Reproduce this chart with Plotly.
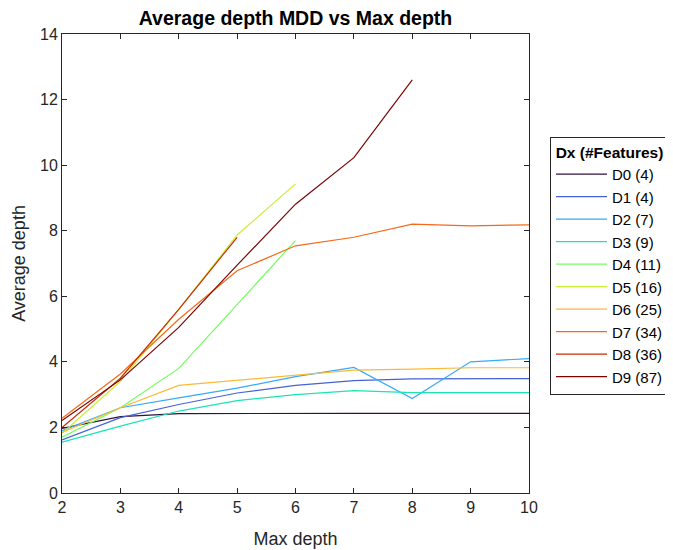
import plotly.graph_objects as go

max_depth = [2, 3, 4, 5, 6, 7, 8, 9, 10]
names = ["D0 (4)", "D1 (4)", "D2 (7)", "D3 (9)", "D4 (11)", "D5 (16)", "D6 (25)", "D7 (34)", "D8 (36)", "D9 (87)"]
colors = ["#30123b", "#4662d7", "#36aaf9", "#1ae4b6", "#72fe5e", "#c7ef34", "#fbb938", "#f56918", "#ca2a04", "#7a0403"]

d0 = [1.97, 2.33, 2.42, 2.43, 2.43, 2.43, 2.43, 2.43, 2.43]
d1 = [1.62, 2.30, 2.70, 3.05, 3.28, 3.43, 3.48, 3.49, 3.49]
d2 = [1.90, 2.60, 2.90, 3.20, 3.55, 3.83, 2.88, 4.00, 4.10]
d3 = [1.55, 2.04, 2.50, 2.82, 3.00, 3.12, 3.06, 3.06, 3.06]
d4 = [1.70, 2.60, 3.80, 5.75, 7.70]
d5 = [1.82, 3.40, 5.60, 7.87, 9.43]
d6 = [1.85, 2.60, 3.28, 3.43, 3.60, 3.75, 3.78, 3.82, 3.82]
d7 = [2.28, 3.63, 5.30, 6.78, 7.54, 7.80, 8.20, 8.15, 8.18]
d8 = [2.00, 3.50, 5.60, 7.80]
d9 = [2.21, 3.45, 5.05, 6.95, 8.81, 10.23, 12.60]
series = [d0, d1, d2, d3, d4, d5, d6, d7, d8, d9]

fig = go.Figure()
for name, col, vals in zip(names, colors, series):
    fig.add_trace(go.Scatter(x=max_depth[:len(vals)], y=vals, mode="lines", name=name,
                             line=dict(color=col, width=1.2)))

axis_common = dict(showline=True, linecolor="#262626", linewidth=1, mirror="ticks", ticks="inside",
                   ticklen=5, tickcolor="#262626", showgrid=False, zeroline=False,
                   tickfont=dict(size=16, color="#262626"))

W, H = 665, 542
fig.update_layout(
    width=W, height=H,
    margin=dict(l=54, r=144, t=26, b=57, autoexpand=False),
    paper_bgcolor="white", plot_bgcolor="white",
    font=dict(family="Liberation Sans, Arial, sans-serif", color="#262626"),
    title=dict(text="<b>Average depth MDD vs Max depth</b>", x=(54 + 467 / 2) / W, xref="container", xanchor="center",
               y=1 - 3 / H, yref="container", yanchor="top", font=dict(size=19.5, color="black")),
    xaxis=dict(range=[2, 10], dtick=1, title=dict(text="Max depth", font=dict(size=18), standoff=17), **axis_common),
    yaxis=dict(range=[0, 14], dtick=2, title=dict(text="Average depth", font=dict(size=18), standoff=9), **axis_common),
    legend=dict(x=1.045, y=0.776, xanchor="left", yanchor="top", bordercolor="#262626", borderwidth=1,
                bgcolor="white", font=dict(size=15, color="black"), tracegroupgap=0, itemwidth=51,
                title=dict(text="<b>Dx (#Features)</b>", side="top center", font=dict(size=15.5, color="black"))),
)
fig.add_shape(type="line", xref="paper", yref="paper", x0=1.045, x1=1.296,
              y0=0.723, y1=0.723, line=dict(color="#262626", width=1))

fig.write_html("out.html")
